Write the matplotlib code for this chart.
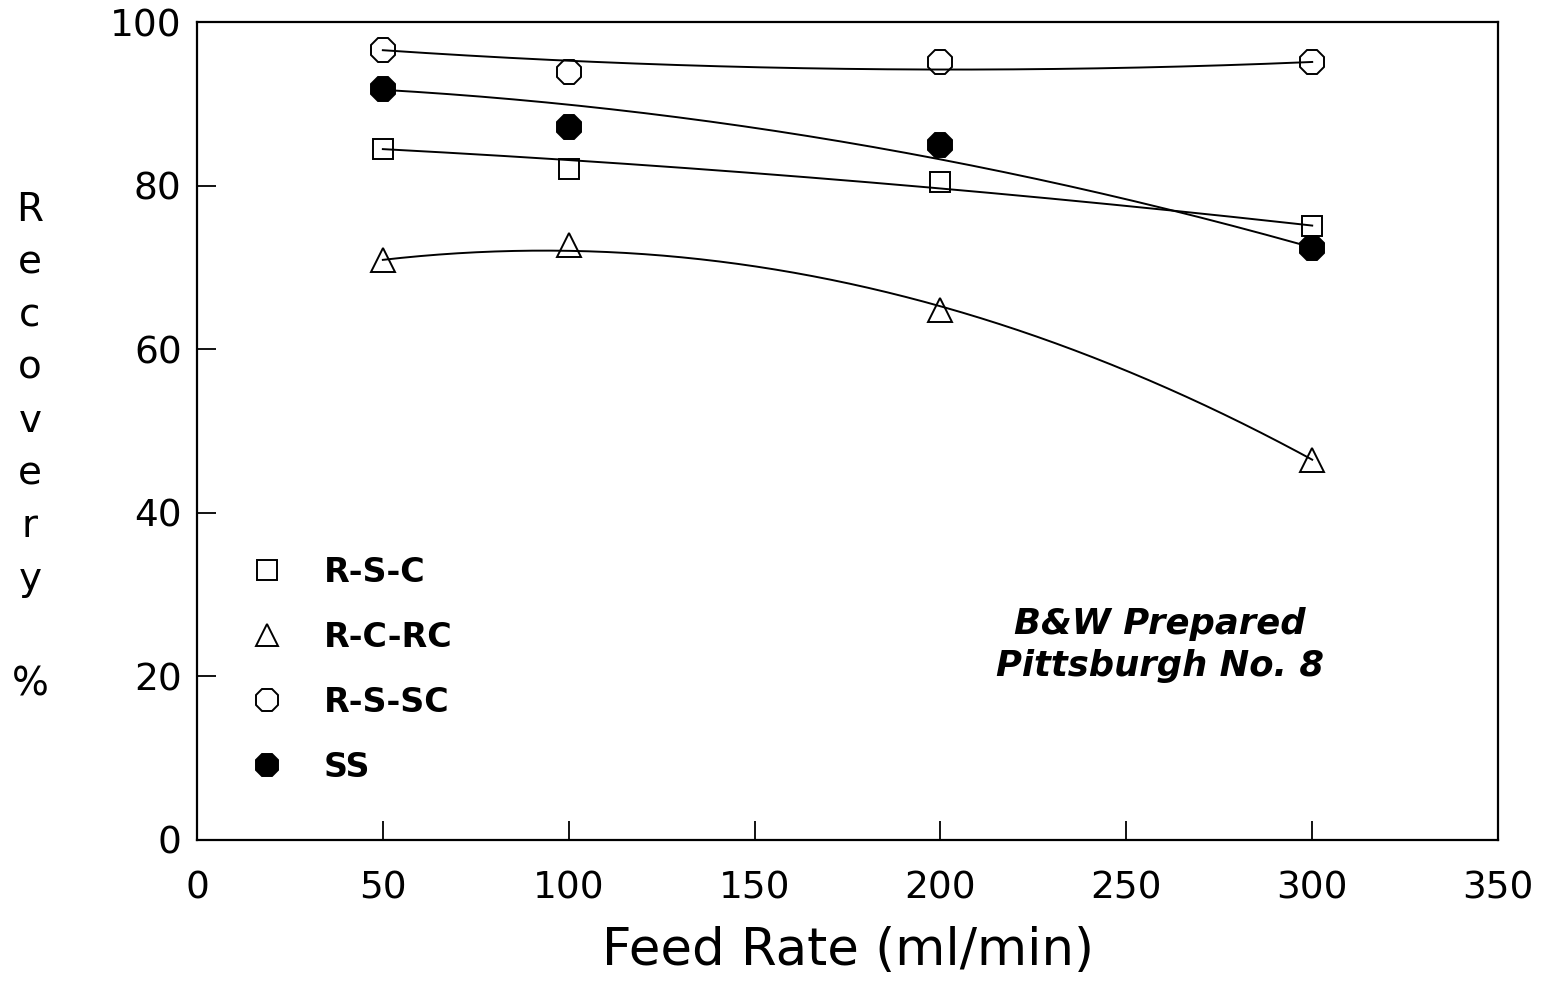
import numpy as np
import matplotlib.pyplot as plt

plt.rcParams['font.family'] = ['DejaVu Sans']

feed_rate = np.array([50, 100, 200, 300])
r_s_c = np.array([84.5, 82.0, 80.4, 75.1])
r_c_rc = np.array([70.9, 72.7, 64.8, 46.5])
r_s_sc = np.array([96.6, 93.9, 95.1, 95.1])
ss = np.array([91.8, 87.2, 85.0, 72.4])

labels = ['R-S-C', 'R-C-RC', 'R-S-SC', 'SS']
markers = ['s', '^', '8', '8']
fills = ['none', 'none', 'none', 'black']
sizes = [15, 17, 18, 18]

fig = plt.figure(figsize=(15.46, 9.83), dpi=100)
ax = fig.add_axes([0.1274, 0.1455, 0.8416, 0.8321])

# smooth trend curves, pinned closer to the end points
xs = np.linspace(50, 300, 200)
wts = np.array([4, 1, 1, 4])
for y, lab, m, fc, ms in zip([r_s_c, r_c_rc, r_s_sc, ss], labels, markers, fills, sizes):
    coef = np.polyfit(feed_rate, y, 2, w=wts)
    ax.plot(xs, np.polyval(coef, xs), color='black', lw=1.4)
    ax.plot(feed_rate, y, linestyle='none', marker=m, markersize=ms,
            markerfacecolor=fc, markeredgecolor='black', markeredgewidth=1.4,
            label=lab)

ax.set_xlim(0, 350)
ax.set_ylim(0, 100)
ax.set_xticks(np.arange(0, 351, 50))
ax.set_yticks(np.arange(0, 101, 20))
ax.tick_params(direction='in', length=14, width=1.3, labelsize=27)
ax.tick_params(axis='x', pad=22)
ax.tick_params(axis='y', pad=11)
for s in ax.spines.values():
    s.set_linewidth(1.6)

ax.set_xlabel('Feed Rate (ml/min)', fontsize=37, labelpad=14)
fig.text(30 / 1546, 0.806, 'R\ne\nc\no\nv\ne\nr\ny\n\n%', ha='center', va='top',
         fontsize=28, linespacing=1.49)

ax.text(0.74, 0.238, 'B&W Prepared\nPittsburgh No. 8', transform=ax.transAxes,
        ha='center', va='center', fontsize=25.5, fontstyle='italic',
        fontweight='bold', linespacing=1.3)

leg = ax.legend(loc='upper left', bbox_to_anchor=(0.018, 0.384), frameon=False,
                handlelength=1.0, handletextpad=1.2, labelspacing=0.96,
                markerscale=0.95, prop={'size': 24, 'weight': 'bold'})

plt.savefig('out.png', dpi=100)
